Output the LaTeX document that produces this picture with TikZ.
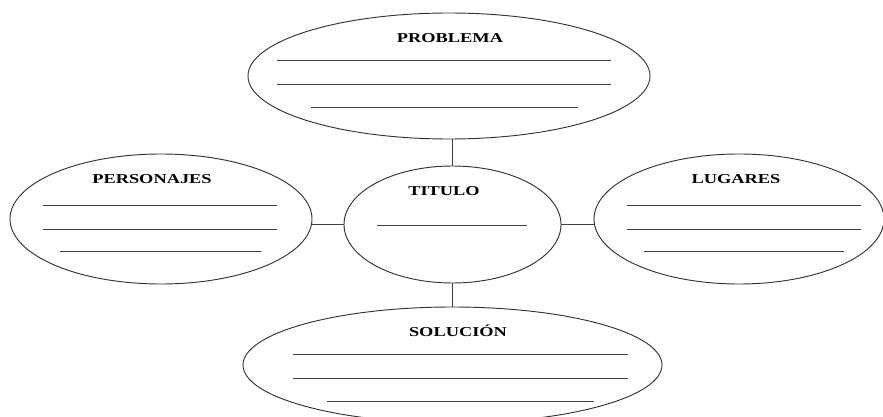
\documentclass[tikz,border=0pt]{standalone}
\usepackage{fontspec}
\setmainfont{Liberation Serif}
\usepackage{graphicx}
\usepackage{tikz}
\usetikzlibrary{shapes.geometric}

\newcommand{\ancho}[1]{\scalebox{1.35}[1]{#1}}

\begin{document}
\begin{tikzpicture}[x=0.75pt,y=-0.75pt,
    ovalo/.style={ellipse,draw=black!80,line width=0.7pt,inner sep=0pt},
    rotulo/.style={inner sep=0pt,font=\fontsize{10.2}{12}\selectfont\bfseries},
    renglon/.style={draw=black!75,line width=0.7pt},
    enlace/.style={draw=black!75,line width=0.8pt}]
    \useasboundingbox (0,0) rectangle (883,417);
    \clip (0,0) rectangle (883,417);

    % ovals
    \node[ovalo,minimum width=301.5pt,minimum height=94.5pt] (problema) at (449,76) {};
    \node[ovalo,minimum width=226.5pt,minimum height=97.5pt] (personajes) at (161,219) {};
    \node[ovalo,minimum width=162.75pt,minimum height=87.75pt] (titulo) at (452.5,224.5) {};
    \node[ovalo,minimum width=217.5pt,minimum height=97.5pt] (lugares) at (739,219) {};
    \node[ovalo,minimum width=314.25pt,minimum height=87pt] (solucion) at (452.5,365) {};

    % labels
    \node[rotulo] (tproblema) at (450,38) {\ancho{PROBLEMA}};
    \node[rotulo] (tpersonajes) at (152,179) {\ancho{PERSONAJES}};
    \node[rotulo] (ttitulo) at (444,191) {\ancho{TITULO}};
    \node[rotulo] (tlugares) at (736,179) {\ancho{LUGARES}};
    \node[rotulo] (tsolucion) at (458,331) {\ancho{SOLUCIÓN}};

    % writing lines
    \draw[renglon] (277,60) -- (611,60);
    \draw[renglon] (277,84) -- (611,84);
    \draw[renglon] (311,107) -- (578,107);

    \draw[renglon] (43,205) -- (277,205);
    \draw[renglon] (43,229) -- (277,229);
    \draw[renglon] (60,251) -- (261,251);

    \draw[renglon] (377,225) -- (527,225);

    \draw[renglon] (627,205) -- (861,205);
    \draw[renglon] (627,229) -- (861,229);
    \draw[renglon] (644,251) -- (844,251);

    \draw[renglon] (293,354) -- (628,354);
    \draw[renglon] (293,378) -- (628,378);
    \draw[renglon] (327,401) -- (594,401);

    % connectors
    \draw[enlace] (titulo.north) -- (titulo.north |- problema.south);
    \draw[enlace] (titulo.south) -- (titulo.south |- solucion.north);
    \draw[enlace] (titulo.west) -- (titulo.west -| personajes.east);
    \draw[enlace] (titulo.east) -- (titulo.east -| lugares.west);

\end{tikzpicture}
\end{document}
